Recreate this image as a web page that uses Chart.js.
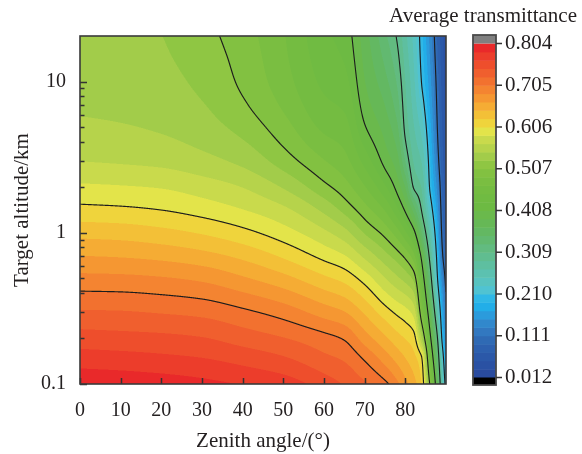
<!DOCTYPE html>
<html>
<head>
<meta charset="utf-8">
<script src="https://cdn.jsdelivr.net/npm/chart.js@4.4.1/dist/chart.umd.min.js"></script>
<style>
  html, body { margin: 0; padding: 0; background: #ffffff; }
  #wrap { width: 582px; height: 454px; }
</style>
</head>
<body>
<div id="wrap"><canvas id="c" width="582" height="454"></canvas></div>
<script>
// Grid axes of the transmittance field
const zenithAngles = [0, 10, 20, 30, 40, 50, 60, 65, 70, 75, 78, 80, 82, 84, 86, 88, 89, 90];
const altitudesKm = [0.1, 0.15, 0.2, 0.3, 0.5, 0.7, 1, 1.5, 2, 3, 5, 7, 10, 15, 20];

// Average transmittance, one row per zenith angle, values listed over altitudesKm
const transmittance = [
  [0.800, 0.773, 0.754, 0.727, 0.691, 0.666, 0.639, 0.608, 0.590, 0.566, 0.550, 0.544, 0.540, 0.537, 0.535], // 0
  [0.798, 0.771, 0.752, 0.726, 0.690, 0.664, 0.637, 0.606, 0.588, 0.564, 0.548, 0.542, 0.538, 0.535, 0.533], // 10
  [0.795, 0.768, 0.750, 0.723, 0.687, 0.660, 0.632, 0.602, 0.585, 0.561, 0.544, 0.538, 0.533, 0.529, 0.527], // 20
  [0.790, 0.764, 0.746, 0.719, 0.681, 0.653, 0.624, 0.594, 0.577, 0.553, 0.535, 0.528, 0.522, 0.517, 0.514], // 30
  [0.783, 0.756, 0.736, 0.709, 0.668, 0.641, 0.612, 0.583, 0.566, 0.541, 0.520, 0.510, 0.503, 0.499, 0.496], // 40
  [0.775, 0.746, 0.726, 0.696, 0.652, 0.623, 0.595, 0.567, 0.545, 0.517, 0.495, 0.484, 0.476, 0.471, 0.469], // 50
  [0.755, 0.729, 0.712, 0.676, 0.630, 0.600, 0.571, 0.537, 0.513, 0.488, 0.463, 0.452, 0.443, 0.436, 0.432], // 60
  [0.743, 0.721, 0.703, 0.666, 0.619, 0.588, 0.554, 0.516, 0.496, 0.474, 0.455, 0.444, 0.434, 0.425, 0.420], // 65
  [0.728, 0.701, 0.676, 0.642, 0.597, 0.562, 0.525, 0.491, 0.469, 0.440, 0.410, 0.398, 0.389, 0.382, 0.378], // 70
  [0.710, 0.675, 0.650, 0.615, 0.567, 0.534, 0.500, 0.460, 0.431, 0.400, 0.380, 0.368, 0.355, 0.342, 0.333], // 75
  [0.690, 0.657, 0.634, 0.601, 0.550, 0.517, 0.476, 0.426, 0.400, 0.376, 0.352, 0.338, 0.326, 0.314, 0.306], // 78
  [0.672, 0.645, 0.625, 0.593, 0.539, 0.502, 0.451, 0.397, 0.368, 0.328, 0.302, 0.295, 0.289, 0.281, 0.275], // 80
  [0.655, 0.632, 0.615, 0.579, 0.522, 0.476, 0.419, 0.352, 0.308, 0.288, 0.272, 0.263, 0.256, 0.249, 0.245], // 82
  [0.625, 0.607, 0.548, 0.485, 0.435, 0.400, 0.349, 0.303, 0.288, 0.268, 0.242, 0.225, 0.209, 0.201, 0.197], // 84
  [0.507, 0.459, 0.424, 0.382, 0.333, 0.301, 0.268, 0.230, 0.208, 0.197, 0.181, 0.170, 0.160, 0.151, 0.145], // 86
  [0.360, 0.328, 0.303, 0.256, 0.205, 0.189, 0.172, 0.152, 0.139, 0.119, 0.106, 0.101, 0.096, 0.089, 0.085], // 88
  [0.270, 0.240, 0.207, 0.180, 0.145, 0.120, 0.107, 0.097, 0.090, 0.081, 0.073, 0.069, 0.066, 0.062, 0.060], // 89
  [0.190, 0.160, 0.140, 0.120, 0.100, 0.085, 0.074, 0.065, 0.060, 0.053, 0.047, 0.043, 0.040, 0.037, 0.035]  // 90
];

// Axis ticks and labels
const xTickValues = [0, 10, 20, 30, 40, 50, 60, 70, 80];
const yTickValues = [0.1, 1, 10];
const yTickLabels = ['0.1', '1', '10'];
const yMinorTicks = [0.2, 0.3, 0.4, 0.5, 0.6, 0.7, 0.8, 0.9, 2, 3, 4, 5, 6, 7, 8, 9];

// Colour levels and the isolines drawn over them
const levelMin = 0.012;
const levelStep = 0.0198;
const levelCount = 40;
const contourLevels = [0.111, 0.210, 0.309, 0.408, 0.507, 0.606, 0.705];
const colorbarTicks = [0.012, 0.111, 0.210, 0.309, 0.408, 0.507, 0.606, 0.705, 0.804];
const colorbarLabels = ['0.012', '0.111', '0.210', '0.309', '0.408', '0.507', '0.606', '0.705', '0.804'];

const xTitle = 'Zenith angle/(\u00B0)';
const yTitle = 'Target altitude/km';
const colorbarTitle = 'Average transmittance';

// ---- styling ----
const FONT = '"Liberation Serif", "Times New Roman", serif';
const TEXT = '#231f20';
// one colour per level band, lowest band first
const bandPalette = [
  '#294b9f', '#2a51a3', '#2b58a8', '#2d60ae', '#2f6ab4', '#3278c0', '#3188cc', '#2b9bdc',
  '#22aee8', '#30b8e6', '#50c3d2', '#58c3c0', '#5cc1b0', '#5ebfa0', '#60bd90', '#62bb80',
  '#62b970', '#63b862', '#66b856', '#6ab94c', '#6dba43', '#70bb42', '#74bc41', '#7abe41',
  '#82c141', '#8fc643', '#a2cc4a', '#b6d34b', '#c9da4c', '#e3e44a', '#efd43c', '#f3c037',
  '#f5ac34', '#f59732', '#f48431', '#f2712f', '#f05f2e', '#ee4e2c', '#ec3d2b', '#e9292a'
];
function hexRgb(h) {
  return [parseInt(h.slice(1, 3), 16), parseInt(h.slice(3, 5), 16), parseInt(h.slice(5, 7), 16)];
}
const bandColors = bandPalette.map(hexRgb);
const OVER = [128, 128, 128], UNDER = [0, 0, 0];
function bandColor(v) {
  const k = Math.floor((v - levelMin) / levelStep);
  if (k < 0) return UNDER;
  if (k >= levelCount) return OVER;
  return bandColors[k];
}

// Monotone cubic interpolation (Fritsch-Butland) on a non-uniform grid
function monotone(xs, ys) {
  const n = xs.length, d = [], m = new Array(n);
  for (let i = 0; i < n - 1; i++) d.push((ys[i + 1] - ys[i]) / (xs[i + 1] - xs[i]));
  m[0] = d[0]; m[n - 1] = d[n - 2];
  for (let i = 1; i < n - 1; i++) {
    if (d[i - 1] * d[i] <= 0) { m[i] = 0; continue; }
    const h0 = xs[i] - xs[i - 1], h1 = xs[i + 1] - xs[i];
    const w1 = 2 * h1 + h0, w2 = h1 + 2 * h0;
    m[i] = (w1 + w2) / (w1 / d[i - 1] + w2 / d[i]);
  }
  return t => {
    let k = 0;
    if (t >= xs[n - 1]) k = n - 2;
    else if (t > xs[0]) { while (k < n - 2 && t > xs[k + 1]) k++; }
    const h = xs[k + 1] - xs[k], s = Math.min(1, Math.max(0, (t - xs[k]) / h));
    const s2 = s * s, s3 = s2 * s;
    return (2 * s3 - 3 * s2 + 1) * ys[k] + (s3 - 2 * s2 + s) * h * m[k] +
           (-2 * s3 + 3 * s2) * ys[k + 1] + (s3 - s2) * h * m[k + 1];
  };
}

// Filled level bands + isolines, sampled through the chart's own scales
const fieldPlugin = {
  id: 'transmittanceField',
  beforeDatasetsDraw(chart) {
    const { ctx, chartArea: a, scales } = chart;
    const sx = scales.x, sy = scales.y;
    const S = 2;
    const x0 = Math.round(a.left), y0 = Math.round(a.top);
    const W = Math.round(a.right) - x0, H = Math.round(a.bottom) - y0;
    const NX = W * S, NY = H * S;
    const logAlt = altitudesKm.map(Math.log10);
    const rowSplines = altitudesKm.map((_, k) => monotone(zenithAngles, transmittance.map(col => col[k])));
    const lh = new Float64Array(NY);
    for (let j = 0; j < NY; j++) lh[j] = Math.log10(sy.getValueForPixel(y0 + (j + 0.5) / S));
    const F = new Float64Array(NX * NY);
    for (let i = 0; i < NX; i++) {
      const th = sx.getValueForPixel(x0 + (i + 0.5) / S);
      const g = monotone(logAlt, rowSplines.map(f => f(th)));
      for (let j = 0; j < NY; j++) F[j * NX + i] = g(lh[j]);
    }
    const img = ctx.createImageData(W, H);
    const n = S * S;
    for (let py = 0; py < H; py++) {
      for (let px = 0; px < W; px++) {
        let r = 0, gg = 0, b = 0;
        for (let dy = 0; dy < S; dy++) for (let dx = 0; dx < S; dx++) {
          const c = bandColor(F[(py * S + dy) * NX + px * S + dx]);
          r += c[0]; gg += c[1]; b += c[2];
        }
        const o = (py * W + px) * 4;
        img.data[o] = r / n; img.data[o + 1] = gg / n; img.data[o + 2] = b / n; img.data[o + 3] = 255;
      }
    }
    ctx.putImageData(img, x0, y0);

    // isolines by marching squares on the same samples
    const PX = i => x0 + (i + 0.5) / S, PY = j => y0 + (j + 0.5) / S;
    ctx.save();
    ctx.beginPath(); ctx.rect(a.left, a.top, a.right - a.left, a.bottom - a.top); ctx.clip();
    ctx.strokeStyle = '#1c1c1c'; ctx.lineWidth = 1.15; ctx.lineCap = 'round'; ctx.lineJoin = 'round';
    for (const L of contourLevels) {
      ctx.beginPath();
      for (let j = 0; j < NY - 1; j++) {
        for (let i = 0; i < NX - 1; i++) {
          const a0 = F[j * NX + i] - L, b0 = F[j * NX + i + 1] - L;
          const c0 = F[(j + 1) * NX + i + 1] - L, d0 = F[(j + 1) * NX + i] - L;
          const pts = [];
          if ((a0 < 0) !== (b0 < 0)) { const t = a0 / (a0 - b0); pts.push([PX(i + t), PY(j)]); }
          if ((b0 < 0) !== (c0 < 0)) { const t = b0 / (b0 - c0); pts.push([PX(i + 1), PY(j + t)]); }
          if ((d0 < 0) !== (c0 < 0)) { const t = d0 / (d0 - c0); pts.push([PX(i + t), PY(j + 1)]); }
          if ((a0 < 0) !== (d0 < 0)) { const t = a0 / (a0 - d0); pts.push([PX(i), PY(j + t)]); }
          for (let k = 0; k + 1 < pts.length; k += 2) {
            ctx.moveTo(pts[k][0], pts[k][1]); ctx.lineTo(pts[k + 1][0], pts[k + 1][1]);
          }
        }
      }
      ctx.stroke();
    }
    ctx.restore();
  },
  afterDraw(chart) {
    const { ctx, chartArea: a, scales } = chart;
    const sx = scales.x, sy = scales.y;
    ctx.save();
    // inward tick marks
    ctx.strokeStyle = '#333333'; ctx.lineWidth = 1.5;
    ctx.beginPath();
    xTickValues.forEach(v => { const p = Math.round(sx.getPixelForValue(v)) + 0.5; ctx.moveTo(p, a.bottom); ctx.lineTo(p, a.bottom - 6); });
    yTickValues.forEach(v => { const p = Math.round(sy.getPixelForValue(v)) + 0.5; ctx.moveTo(a.left, p); ctx.lineTo(a.left + 7, p); });
    yMinorTicks.forEach(v => { const p = Math.round(sy.getPixelForValue(v)) + 0.5; ctx.moveTo(a.left, p); ctx.lineTo(a.left + 4.5, p); });
    ctx.stroke();
    // frame
    ctx.strokeStyle = '#3a3a3a'; ctx.lineWidth = 1.6;
    ctx.strokeRect(a.left, a.top, a.right - a.left, a.bottom - a.top);

    // colour bar
    const cbL = 473, cbR = 496;
    const yHi = a.top + 7.5, yLo = a.bottom - 6.5;
    const vy = v => yLo - (v - levelMin) / (levelStep * levelCount) * (yLo - yHi);
    for (let i = 0; i < levelCount; i++) {
      const t = vy(levelMin + (i + 1) * levelStep), b = vy(levelMin + i * levelStep);
      ctx.fillStyle = bandPalette[i];
      ctx.fillRect(cbL, t, cbR - cbL, b - t + 0.5);
    }
    ctx.fillStyle = 'rgb(128,128,128)';
    ctx.fillRect(cbL, a.top - 1, cbR - cbL, yHi - (a.top - 1));
    ctx.fillStyle = '#000000';
    ctx.fillRect(cbL, yLo, cbR - cbL, (a.bottom + 1) - yLo);
    ctx.strokeStyle = '#4a4a4a'; ctx.lineWidth = 1.8;
    ctx.strokeRect(cbL, a.top - 1, cbR - cbL, a.bottom + 2 - a.top);
    ctx.lineWidth = 1.4; ctx.strokeStyle = '#333333';
    ctx.beginPath();
    colorbarTicks.forEach(v => { const p = vy(v); ctx.moveTo(cbR, p); ctx.lineTo(cbR + 6, p); });
    ctx.stroke();
    ctx.fillStyle = TEXT; ctx.font = '21px ' + FONT;
    ctx.textAlign = 'left'; ctx.textBaseline = 'middle';
    colorbarTicks.forEach((v, i) => ctx.fillText(colorbarLabels[i], cbR + 9, vy(v)));
    ctx.textAlign = 'center';
    ctx.fillText(colorbarTitle, 483, 16);
    ctx.restore();
  }
};

const tickFont = { family: FONT, size: 20 };
const titleFont = { family: FONT, size: 21 };
new Chart(document.getElementById('c').getContext('2d'), {
  type: 'scatter',
  data: { datasets: [] },
  options: {
    responsive: false,
    animation: false,
    devicePixelRatio: 1,
    layout: { padding: { top: 36, right: 136, left: 0, bottom: 0 } },
    plugins: { legend: { display: false }, tooltip: { enabled: false }, title: { display: false } },
    scales: {
      x: {
        type: 'linear', min: 0, max: 90,
        afterBuildTicks: s => { s.ticks = xTickValues.map(v => ({ value: v })); },
        afterFit: s => { s.height = 70; },
        grid: { display: false, drawTicks: false },
        border: { display: false },
        ticks: { font: tickFont, color: TEXT, padding: 15, maxRotation: 0, callback: v => String(v) },
        title: { display: true, text: xTitle, font: titleFont, color: TEXT, padding: { top: 0, bottom: 0 } }
      },
      y: {
        type: 'logarithmic', min: 0.1, max: 20,
        afterBuildTicks: s => { s.ticks = yTickValues.map(v => ({ value: v })); },
        afterFit: s => { s.width = 80; },
        grid: { display: false, drawTicks: false },
        border: { display: false },
        ticks: { font: tickFont, color: TEXT, padding: 14, callback: v => yTickLabels[yTickValues.indexOf(v)] },
        title: { display: true, text: yTitle, font: titleFont, color: TEXT, padding: { top: 10, bottom: 0 } }
      }
    }
  },
  plugins: [fieldPlugin]
});
</script>
</body>
</html>
